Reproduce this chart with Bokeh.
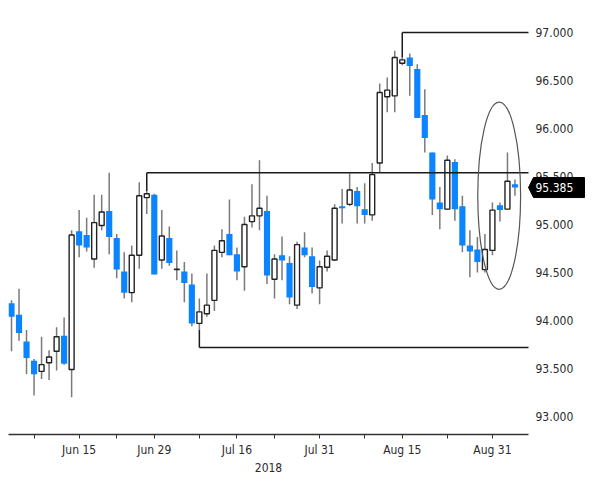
import pandas as pd
from bokeh.plotting import figure
from bokeh.models import (Range1d, FixedTicker, ColumnDataSource, PrintfTickFormatter,
                          LinearAxis)
from bokeh.core.properties import value
from bokeh.embed import file_html
from bokeh.resources import INLINE

# ---- data -------------------------------------------------------------
dates = pd.bdate_range("2018-06-04", "2018-09-05")

open_ = [94.18, 94.06, 93.78, 93.58, 93.47, 93.56, 93.68, 93.84, 93.49, 94.93,
         94.89, 94.64, 94.99, 95.14, 94.86, 94.51, 94.29, 94.68, 95.28, 95.31,
         94.63, 94.86, 94.53, 94.51, 94.375, 93.97, 94.07, 94.21, 94.71, 94.90,
         94.69, 94.56, 95.03, 95.09, 95.14, 94.43, 94.68, 94.60, 94.16, 94.76,
         94.67, 94.34, 94.555, 94.63, 95.19, 95.21, 95.35, 95.16, 95.10, 95.64,
         96.33, 96.34, 96.68, 96.74, 96.62, 96.14, 95.75, 95.23, 95.16, 95.65,
         95.19, 94.78, 94.74, 94.53, 94.73, 95.20, 95.16, 95.42]
high = [94.21, 94.33, 93.90, 93.60, 93.83, 93.69, 93.93, 94.03, 94.94, 95.15,
        95.07, 95.31, 95.31, 95.54, 94.90, 94.71, 94.78, 95.44, 95.35, 95.32,
        95.15, 94.98, 94.73, 94.61, 94.49, 94.23, 94.49, 94.78, 94.95, 95.26,
        94.76, 95.08, 95.42, 95.67, 95.30, 94.69, 94.875, 94.67, 94.82, 94.92,
        94.76, 94.625, 94.73, 95.21, 95.37, 95.53, 95.39, 95.43, 95.64, 96.47,
        96.53, 96.81, 96.74, 96.78, 96.67, 96.41, 95.75, 95.39, 95.72, 95.68,
        95.30, 94.94, 94.87, 94.90, 95.23, 95.23, 95.75, 95.47]
low = [93.68, 93.79, 93.44, 93.22, 93.39, 93.38, 93.48, 93.54, 93.20, 94.66,
       94.72, 94.55, 94.94, 94.69, 94.44, 94.23, 94.19, 94.54, 95.11, 94.48,
       94.54, 94.57, 94.42, 94.19, 93.94, 93.90, 94.04, 94.10, 94.66, 94.68,
       94.42, 94.31, 94.97, 94.94, 94.38, 94.23, 94.42, 94.17, 94.12, 94.66,
       94.28, 94.17, 94.51, 94.62, 95.01, 95.19, 95.01, 95.01, 95.04, 95.545,
       96.17, 96.17, 96.66, 96.34, 96.11, 95.75, 95.10, 94.95, 95.15, 95.04,
       94.71, 94.45, 94.50, 94.50, 94.68, 95.03, 95.16, 95.30]
close = [94.04, 93.87, 93.61, 93.44, 93.54, 93.62, 93.83, 93.55, 94.89, 94.78,
         94.76, 95.02, 95.13, 94.87, 94.53, 94.29, 94.68, 95.30, 95.32, 94.48,
         94.88, 94.60, 94.535, 94.39, 93.97, 94.09, 94.16, 94.73, 94.83, 94.68,
         94.51, 95.00, 95.09, 95.17, 94.47, 94.64, 94.625, 94.24, 94.79, 94.68,
         94.35, 94.56, 94.67, 95.17, 95.17, 95.36, 95.19, 95.10, 95.52, 96.375,
         96.40, 96.74, 96.715, 96.65, 96.11, 95.90, 95.26, 95.16, 95.67, 95.16,
         94.78, 94.72, 94.61, 94.74, 95.15, 95.15, 95.45, 95.385]

tick_dates = ["2018-06-07", "2018-06-15", "2018-06-22", "2018-06-29",
              "2018-07-09", "2018-07-16", "2018-07-23", "2018-07-31",
              "2018-08-08", "2018-08-15", "2018-08-23", "2018-08-31"]
tick_labels = ["", "Jun 15", "", "Jun 29", "", "Jul 16", "", "Jul 31",
               "", "Aug 15", "", "Aug 31"]
year_label = "2018"

y_ticks = [93.0, 93.5, 94.0, 94.5, 95.0, 95.5, 96.0, 96.5, 97.0]

# horizontal levels (value, anchor date)
level_values = [97.0, 95.54, 93.72]
level_dates = ["2018-08-15", "2018-06-28", "2018-07-09"]

# highlighted area (ellipse) in data coordinates
hl_x, hl_y, hl_w, hl_h = 64.9, 95.30, 5.7, 1.95

# ---- build ------------------------------------------------------------
idx = {d.strftime("%Y-%m-%d"): i for i, d in enumerate(dates)}
xs = list(range(len(dates)))

BLUE = "#0A84FF"
TXT = "#2b2b2b"
FONT = "DejaVu Sans Condensed, Liberation Sans"
FS = "12px"

FRAME_W = 584
PX_PER_DAY = 520 / 69.2           # horizontal scale of the plotting area
x_start = -0.4
x_end = len(dates) - 1 + 1.8      # right edge of the chart area (lines end here)
x_frame_end = x_start + FRAME_W / PX_PER_DAY
PX_PER_Y = 96.0

p = figure(frame_width=FRAME_W, frame_height=426,
           x_range=Range1d(x_start, x_frame_end), y_range=Range1d(92.8125, 97.25),
           y_axis_location="right", output_backend="svg", toolbar_location=None,
           min_border_left=8, min_border_top=8, min_border_right=0,
           min_border_bottom=0)
p.outline_line_color = None
p.grid.visible = False
p.background_fill_color = "white"
p.border_fill_color = "white"

src = ColumnDataSource(dict(x=xs, o=open_, h=high, l=low, c=close))
up = [i for i in xs if close[i] >= open_[i]]
dn = [i for i in xs if close[i] < open_[i]]
src_up = ColumnDataSource(dict(x=up, o=[open_[i] for i in up], c=[close[i] for i in up]))
src_dn = ColumnDataSource(dict(x=dn, o=[open_[i] for i in dn], c=[close[i] for i in dn]))

p.segment(x0="x", y0="h", x1="x", y1="l", source=src, line_color="#7a7a7a", line_width=1.5)
p.vbar(x="x", width=0.66, top="c", bottom="o", source=src_up,
       fill_color="white", line_color="#222222", line_width=1.4)
p.vbar(x="x", width=0.82, top="o", bottom="c", source=src_dn,
       fill_color=BLUE, line_color=None)

# level lines
for val, d in zip(level_values, level_dates):
    i = idx[d]
    anchor = high[i] if val >= high[i] else low[i]
    p.segment(x0=[i], y0=[anchor], x1=[i], y1=[val], line_color="#1a1a1a", line_width=1.5)
    p.segment(x0=[i], y0=[val], x1=[x_end], y1=[val], line_color="#1a1a1a", line_width=1.5)

p.ellipse(x=[hl_x], y=[hl_y], width=hl_w, height=hl_h, fill_color=None,
          line_color="#555555", line_width=1.2)

# axes
p.xaxis.ticker = FixedTicker(ticks=[idx[d] for d in tick_dates])
p.xaxis.major_label_overrides = {idx[d]: lab for d, lab in zip(tick_dates, tick_labels)}
p.xaxis.bounds = (x_start, x_end)
p.xaxis.axis_line_color = "#333333"
p.xaxis.axis_line_width = 1.5
p.xaxis.major_tick_line_color = "#333333"
p.xaxis.major_tick_in = 0
p.xaxis.major_tick_out = 4
p.xaxis.minor_tick_line_color = None
p.xaxis.major_label_standoff = 4

# second row: year, centred under the chart area
mid = (x_start + x_end) / 2
year_axis = LinearAxis(ticker=FixedTicker(ticks=[mid]),
                       major_label_overrides={mid: year_label},
                       axis_line_color=None, major_tick_line_color=None,
                       minor_tick_line_color=None, major_tick_in=0, major_tick_out=0,
                       major_label_standoff=3)
p.add_layout(year_axis, "below")

p.yaxis.ticker = FixedTicker(ticks=y_ticks)
p.yaxis.formatter = PrintfTickFormatter(format="%.3f")
p.yaxis.axis_line_color = None
p.yaxis.major_tick_line_color = None
p.yaxis.minor_tick_line_color = None
p.yaxis.major_tick_in = 0
p.yaxis.major_tick_out = 0
# labels sit just right of the chart area (which ends at x_end)
p.yaxis.major_label_standoff = -int(round((x_frame_end - x_end) * PX_PER_DAY)) + 7

for ax in (p.xaxis[0], year_axis, p.yaxis[0]):
    ax.major_label_text_font = FONT
    ax.major_label_text_font_size = FS
    ax.major_label_text_color = TXT

# last price tag (drawn above the axis labels)
last = close[-1]
hh = 10 / PX_PER_Y
tip = x_end
body_l = x_end + 5 / PX_PER_DAY
body_r = x_end + 56 / PX_PER_DAY
p.patch(x=[tip, body_l, body_r, body_r, body_l],
        y=[last, last + hh, last + hh, last - hh, last - hh],
        fill_color="black", line_color="black", level="overlay")
p.text(x=[x_end + 7 / PX_PER_DAY], y=[last], text=[f"{last:.3f}"],
       text_color="white", text_baseline="middle", text_align="left",
       text_font=value(FONT), text_font_size=FS, level="overlay")

open("out.html", "w").write(file_html(p, INLINE))
